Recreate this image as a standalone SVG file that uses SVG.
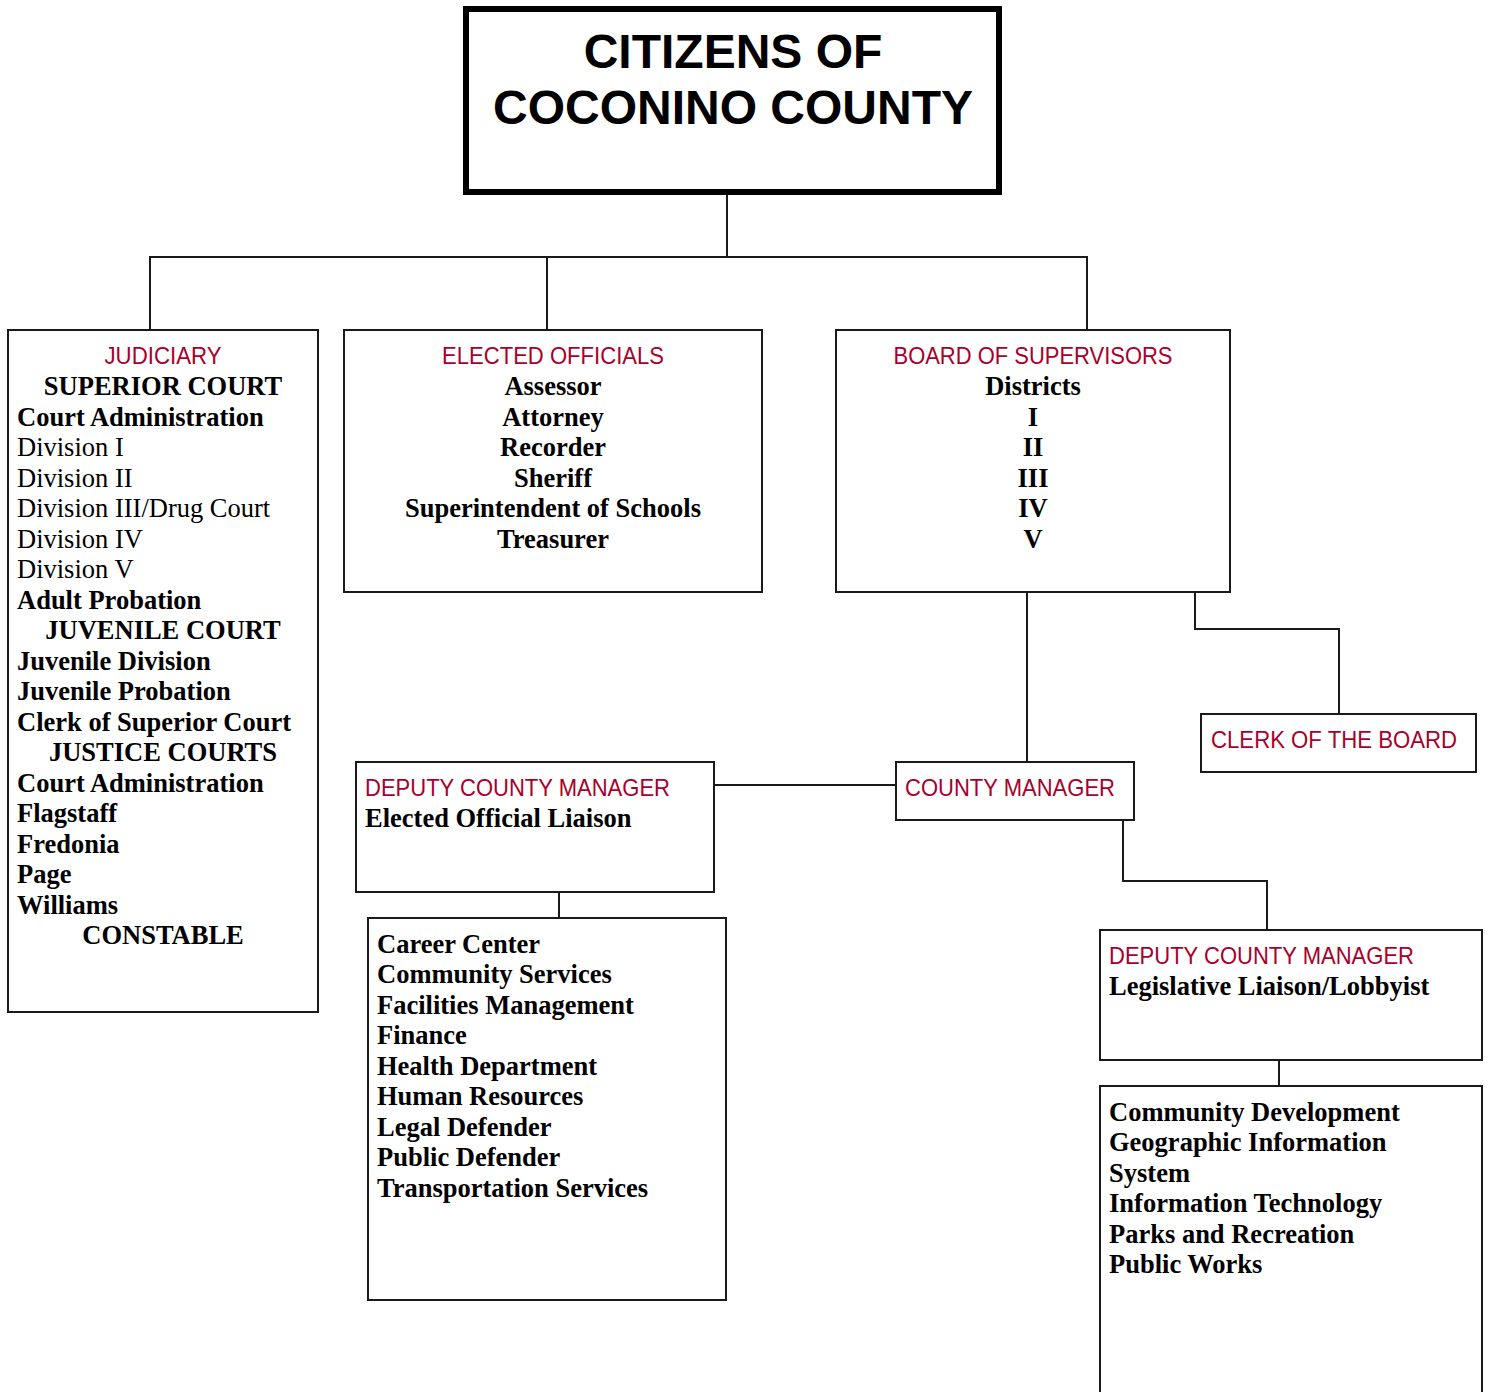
<svg xmlns="http://www.w3.org/2000/svg" width="1491" height="1392" viewBox="0 0 1491 1392">
<style>
.box{fill:#fff;stroke:#1a1a1a;stroke-width:2}
.ln{fill:none;stroke:#1a1a1a;stroke-width:2}
.title{font-family:"Liberation Sans",Arial,sans-serif;font-weight:bold;font-size:48px;fill:#000;text-anchor:middle}
.red{font-family:"Liberation Sans",Arial,sans-serif;font-size:24px;fill:#a8002b}
.b{font-family:"Liberation Serif","Times New Roman",serif;font-weight:bold;font-size:26.5px;fill:#000}
.r{font-family:"Liberation Serif","Times New Roman",serif;font-size:26.5px;fill:#000}
.c{text-anchor:middle}
</style>
<rect width="1491" height="1392" fill="#fff"/>
<g id="connectors">
<path class="ln" d="M727 191V257M150 257H1087M150 256V330M547 256V330M1087 256V330"/>
<path class="ln" d="M1027 592V762"/>
<path class="ln" d="M1195 592V629H1339V714"/>
<path class="ln" d="M714 785H896"/>
<path class="ln" d="M1123 820V881H1267V930"/>
<path class="ln" d="M559 892V918"/>
<path class="ln" d="M1279 1060V1086"/>
</g>
<g id="citizens">
<rect x="466" y="9" width="533" height="183" fill="#fff" stroke="#000" stroke-width="6"/>
<text class="title" x="733" y="68">CITIZENS OF</text>
<text class="title" x="733" y="124">COCONINO COUNTY</text>
</g>
<g id="judiciary">
<rect class="box" x="8" y="330" width="310" height="682"/>
<text class="red c" x="163" y="364" textLength="117" lengthAdjust="spacingAndGlyphs">JUDICIARY</text>
<text class="b c" x="163" y="395">SUPERIOR COURT</text>
<text class="b" x="17" y="426">Court Administration</text>
<text class="r" x="17" y="456">Division I</text>
<text class="r" x="17" y="487">Division II</text>
<text class="r" x="17" y="517">Division III/Drug Court</text>
<text class="r" x="17" y="548">Division IV</text>
<text class="r" x="17" y="578">Division V</text>
<text class="b" x="17" y="609">Adult Probation</text>
<text class="b c" x="163" y="639">JUVENILE COURT</text>
<text class="b" x="17" y="670">Juvenile Division</text>
<text class="b" x="17" y="700">Juvenile Probation</text>
<text class="b" x="17" y="731">Clerk of Superior Court</text>
<text class="b c" x="163" y="761">JUSTICE COURTS</text>
<text class="b" x="17" y="792">Court Administration</text>
<text class="b" x="17" y="822">Flagstaff</text>
<text class="b" x="17" y="853">Fredonia</text>
<text class="b" x="17" y="883">Page</text>
<text class="b" x="17" y="914">Williams</text>
<text class="b c" x="163" y="944">CONSTABLE</text>
</g>
<g id="elected">
<rect class="box" x="344" y="330" width="418" height="262"/>
<text class="red c" x="553" y="364" textLength="222" lengthAdjust="spacingAndGlyphs">ELECTED OFFICIALS</text>
<text class="b c" x="553" y="395">Assessor</text>
<text class="b c" x="553" y="426">Attorney</text>
<text class="b c" x="553" y="456">Recorder</text>
<text class="b c" x="553" y="487">Sheriff</text>
<text class="b c" x="553" y="517">Superintendent of Schools</text>
<text class="b c" x="553" y="548">Treasurer</text>
</g>
<g id="board">
<rect class="box" x="836" y="330" width="394" height="262"/>
<text class="red c" x="1033" y="364" textLength="279" lengthAdjust="spacingAndGlyphs">BOARD OF SUPERVISORS</text>
<text class="b c" x="1033" y="395">Districts</text>
<text class="b c" x="1033" y="426">I</text>
<text class="b c" x="1033" y="456">II</text>
<text class="b c" x="1033" y="487">III</text>
<text class="b c" x="1033" y="517">IV</text>
<text class="b c" x="1033" y="548">V</text>
</g>
<g id="clerk">
<rect class="box" x="1201" y="714" width="275" height="58"/>
<text class="red" x="1211" y="748" textLength="246" lengthAdjust="spacingAndGlyphs">CLERK OF THE BOARD</text>
</g>
<g id="county-manager">
<rect class="box" x="896" y="762" width="238" height="58"/>
<text class="red" x="905" y="796" textLength="210" lengthAdjust="spacingAndGlyphs">COUNTY MANAGER</text>
</g>
<g id="deputy1">
<rect class="box" x="356" y="762" width="358" height="130"/>
<text class="red" x="365" y="796" textLength="305" lengthAdjust="spacingAndGlyphs">DEPUTY COUNTY MANAGER</text>
<text class="b" x="365" y="827">Elected Official Liaison</text>
</g>
<g id="services1">
<rect class="box" x="368" y="918" width="358" height="382"/>
<text class="b" x="377" y="953">Career Center</text>
<text class="b" x="377" y="983">Community Services</text>
<text class="b" x="377" y="1014">Facilities Management</text>
<text class="b" x="377" y="1044">Finance</text>
<text class="b" x="377" y="1075">Health Department</text>
<text class="b" x="377" y="1105">Human Resources</text>
<text class="b" x="377" y="1136">Legal Defender</text>
<text class="b" x="377" y="1166">Public Defender</text>
<text class="b" x="377" y="1197">Transportation Services</text>
</g>
<g id="deputy2">
<rect class="box" x="1100" y="930" width="382" height="130"/>
<text class="red" x="1109" y="964" textLength="305" lengthAdjust="spacingAndGlyphs">DEPUTY COUNTY MANAGER</text>
<text class="b" x="1109" y="995">Legislative Liaison/Lobbyist</text>
</g>
<g id="services2">
<rect class="box" x="1100" y="1086" width="382" height="320"/>
<text class="b" x="1109" y="1121">Community Development</text>
<text class="b" x="1109" y="1151">Geographic Information</text>
<text class="b" x="1109" y="1182">System</text>
<text class="b" x="1109" y="1212">Information Technology</text>
<text class="b" x="1109" y="1243">Parks and Recreation</text>
<text class="b" x="1109" y="1273">Public Works</text>
</g>
</svg>
